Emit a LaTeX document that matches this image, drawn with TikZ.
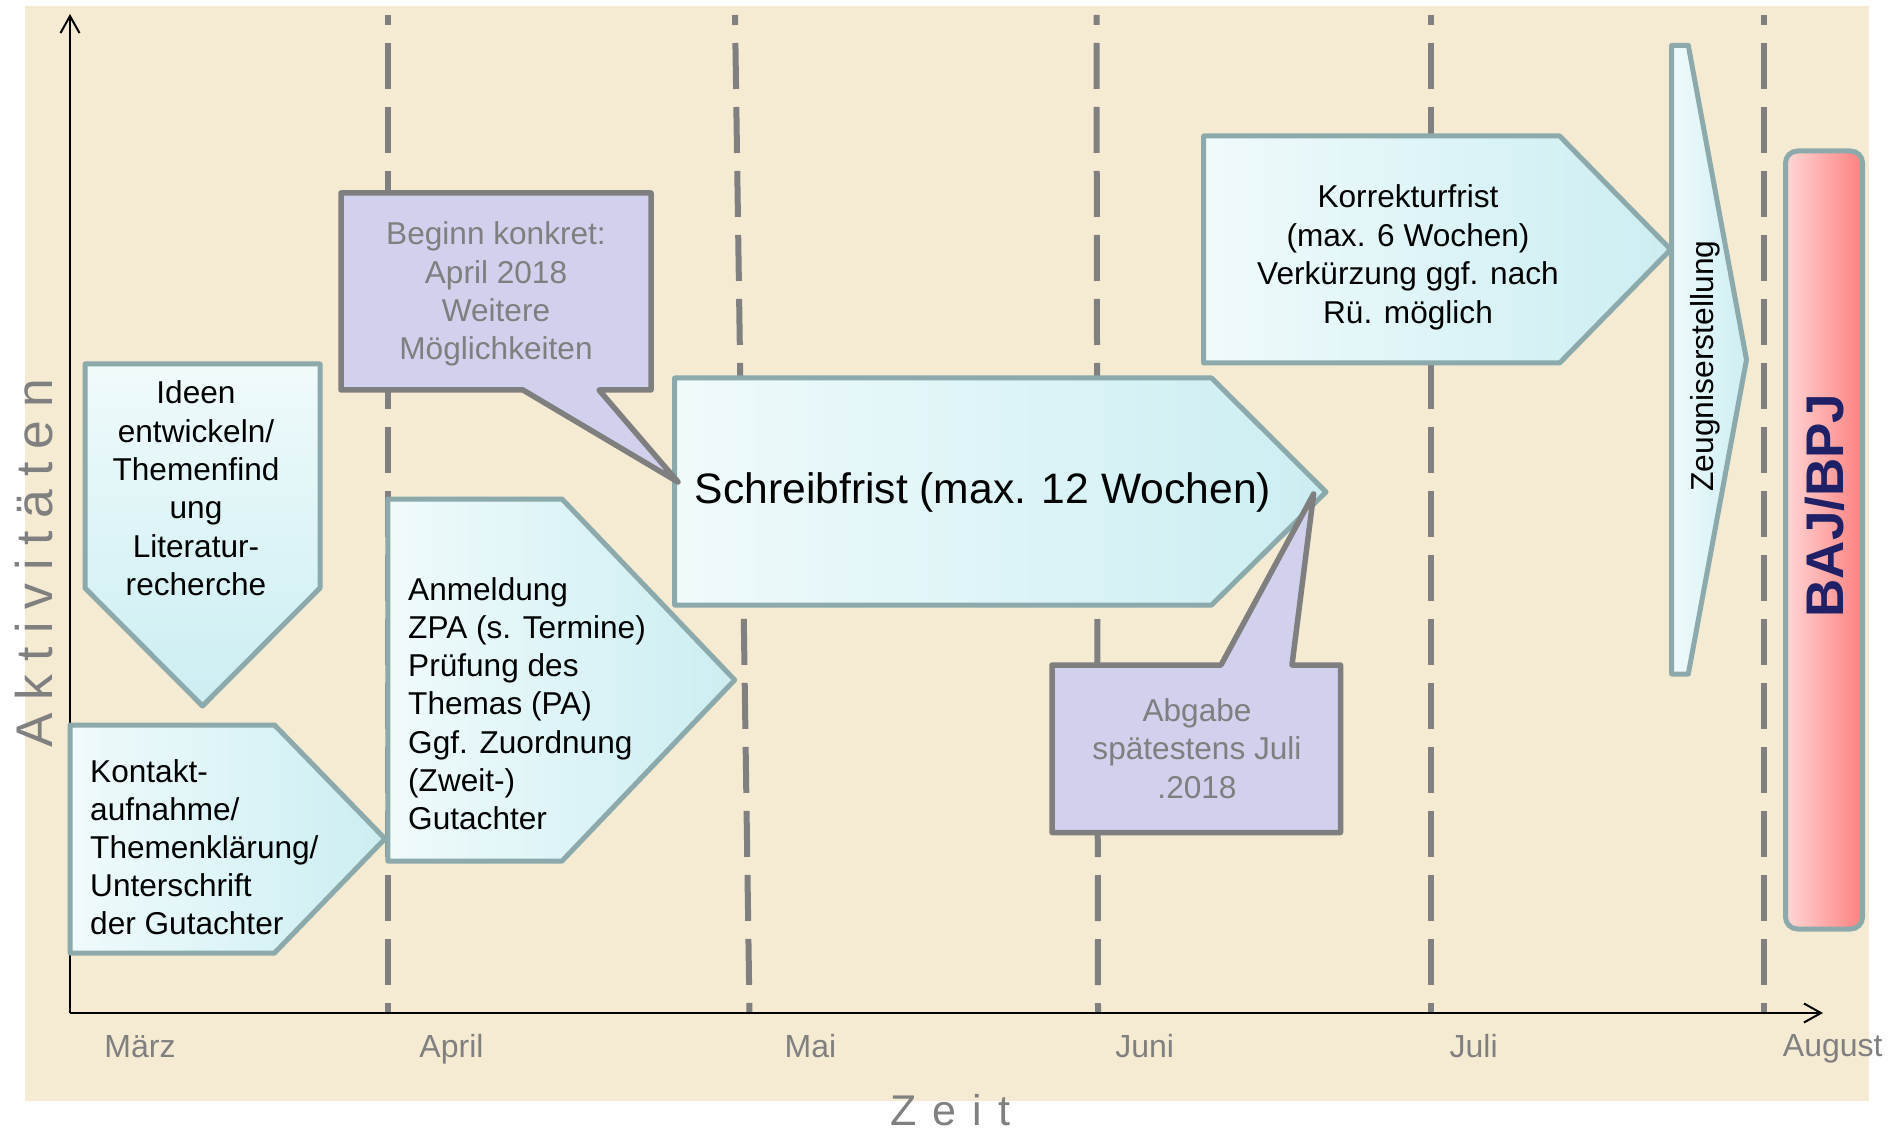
\documentclass[tikz,border=0pt]{standalone}
\usepackage{fontspec}
\setmainfont{Liberation Sans}
\newfontfamily\spacedA{Liberation Sans}[LetterSpace=25.4]
\newfontfamily\spacedZ{Liberation Sans}[LetterSpace=37]
\usetikzlibrary{arrows.meta}
\definecolor{bgbeige}{HTML}{F5EBD2}
\definecolor{dashgray}{HTML}{808080}
\definecolor{boxborder}{HTML}{8CA9AB}
\definecolor{tealL}{HTML}{F0FAFB}
\definecolor{tealR}{HTML}{CBEEF2}
\definecolor{lav}{HTML}{D1D1EE}
\definecolor{callgray}{HTML}{7F7F7F}
\definecolor{monthgray}{HTML}{808080}
\definecolor{pinkL}{HTML}{FFD6D6}
\definecolor{pinkR}{HTML}{FF8080}
\definecolor{navy}{HTML}{202066}
\begin{document}
\begin{tikzpicture}[x=1pt,y=-1pt,
  boxshape/.style={draw=boxborder, line width=5pt, line join=round, left color=tealL, right color=tealR},
  boxshapev/.style={draw=boxborder, line width=5pt, line join=round, top color=tealL, bottom color=tealR},
  callout/.style={draw=callgray, line width=5.5pt, line join=round, fill=lav},
  monthlbl/.style={font=\fontsize{32}{38}\selectfont, text=monthgray, inner sep=0pt, anchor=base},
  btxt/.style={font=\fontsize{31.6}{38}\selectfont, inner sep=0pt, anchor=base},
  ltxt/.style={btxt, anchor=base west},
  ctxt/.style={btxt, text=callgray},
  vline/.style={draw=dashgray, line width=6pt, dash pattern=on 46pt off 18pt, dash phase=36pt},
  axisline/.style={line width=2pt, -{Straight Barb[length=17pt,width=19pt]}}]
\useasboundingbox (0,0) rectangle (1904,1131);
\fill[bgbeige] (25,6.5) rectangle (1868.5,1101);

% month separators
\coordinate (aprT) at (387.5,15);  \coordinate (aprB) at (387.5,1013);
\coordinate (maiT) at (735,15);    \coordinate (maiB) at (749.5,1013);
\coordinate (junT) at (1096.5,15); \coordinate (junB) at (1098,1013);
\coordinate (julT) at (1431,15);   \coordinate (julB) at (1431,1013);
\coordinate (augT) at (1763.5,15); \coordinate (augB) at (1763.5,1013);
\draw[vline] (aprT) -- (aprB);
\draw[vline] (maiT) -- (maiB);
\draw[vline] (junT) -- (junB);
\draw[vline] (julT) -- (julB);
\draw[vline] (augT) -- (augB);

% axes
\coordinate (O) at (70,1013);
\coordinate (Ytip) at (70,14);
\coordinate (Xtip) at (1823,1013);
\draw[axisline] (O) -- (Ytip);
\draw[axisline] (O) -- (Xtip);

% month labels
\node[monthlbl] (maerz) at (140,1057) {März};
\node[monthlbl] (april) at (451.5,1057) {April};
\node[monthlbl] (mai) at (810.5,1057) {Mai};
\node[monthlbl] (juni) at (1144.6,1057) {Juni};
\node[monthlbl] (juli) at (1473.6,1057) {Juli};
\node[monthlbl] (august) at (1832.7,1056) {August};

% axis titles
\node[rotate=90, anchor=base west, inner sep=0pt, text=monthgray,
      font=\spacedA\fontsize{51.6}{60}\selectfont] (akt) at (52,748) {Aktivitäten};
\node[anchor=base west, inner sep=0pt, text=monthgray,
      font=\spacedZ\fontsize{43}{50}\selectfont] (zeit) at (890.5,1125) {Zeit};

% Ideen (down arrow)
\path[boxshapev] (85,364) -- (320,364) -- (320,588) -- (202.5,706) -- (85,588) -- cycle;
\foreach \t [count=\i from 0] in {{Ideen},{entwickeln/},{Themenfind},{ung},{Literatur-},{recherche}}
  \node[btxt] (ideen\i) at (196,{404+38.3*\i}) {\t};

% Kontakt
\path[boxshape] (70,725) -- (274.5,725) -- (385,838.7) -- (274.5,953) -- (70,953) -- cycle;
\foreach \t [count=\i from 0] in {{Kontakt-},{aufnahme/},{Themenklärung/},{Unterschrift},{der Gutachter}}
  \node[ltxt] (kontakt\i) at (90,{782+38*\i}) {\t};

% Anmeldung
\path[boxshape] (387.8,499) -- (562,499) -- (734.7,680) -- (562,861) -- (387.8,861) -- cycle;
\foreach \t [count=\i from 0] in {{Anmeldung},{ZPA (s. Termine)},{Prüfung des},{Themas (PA)},{Ggf. Zuordnung},{(Zweit-)},{Gutachter}}
  \node[ltxt] (anm\i) at (408,{600+38.3*\i}) {\t};

% Schreibfrist
\path[boxshape] (674.6,378) -- (1211.6,378) -- (1326,492) -- (1211.6,605) -- (674.6,605) -- cycle;
\node[inner sep=0pt, anchor=base west, font=\fontsize{42.6}{50}\selectfont] (schreib) at (694.6,503.7) {Schreibfrist (max. 12 Wochen)};

% Korrekturfrist
\path[boxshape] (1203.7,136) -- (1559.6,136) -- (1670.7,249.5) -- (1559.6,363) -- (1203.7,363) -- cycle;
\foreach \t [count=\i from 0] in {{Korrekturfrist},{(max. 6 Wochen)},{Verkürzung ggf. nach},{Rü. möglich}}
  \node[btxt] (korr\i) at (1408,{208+38.4*\i}) {\t};

% Zeugniserstellung
\path[boxshape] (1671.7,45.4) -- (1688.3,45.4) -- (1746.5,359.7) -- (1688.3,674) -- (1671.7,674) -- cycle;
\node[rotate=90, inner sep=0pt, font=\fontsize{31.8}{38}\selectfont] (zeugnis) at (1705,366) {Zeugniserstellung};

% BAJ/BPJ
\path[draw=boxborder, line width=5pt, rounded corners=12pt, left color=pinkL, right color=pinkR]
  (1785.5,151) rectangle (1862.5,929);
\node[rotate=90, inner sep=0pt, text=navy, font=\bfseries\fontsize{53}{60}\selectfont] (baj) at (1824.5,505.5) {BAJ/BPJ};

% callouts
\path[callout] (341,193) -- (651,193) -- (651,390) -- (599,390) -- (678,482) -- (523,390) -- (341,390) -- cycle;
\foreach \t [count=\i from 0] in {{Beginn konkret:},{April 2018},{Weitere},{Möglichkeiten}}
  \node[ctxt] (beginn\i) at (496,{245+38.3*\i}) {\t};

\path[callout] (1052,665) -- (1221,665) -- (1313.6,494) -- (1292,665) -- (1340.5,665) -- (1340.5,832.5) -- (1052,832.5) -- cycle;
\foreach \t [count=\i from 0] in {{Abgabe},{spätestens Juli},{.2018}}
  \node[ctxt] (abgabe\i) at (1197,{721+38.5*\i}) {\t};
\end{tikzpicture}
\end{document}
